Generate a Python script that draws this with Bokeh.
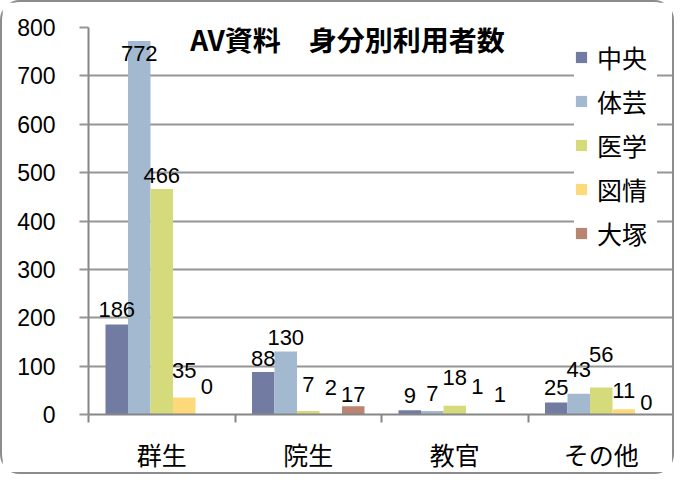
from bokeh.plotting import figure
from bokeh.models import ColumnDataSource, FixedTicker, Range1d, Legend, LegendItem, Label
from bokeh.embed import file_html
from bokeh.resources import INLINE
from bokeh.core.properties import value

# ---- data ----
categories = ["群生", "院生", "教官", "その他"]
series_names = ["中央", "体芸", "医学", "図情", "大塚"]
chuo = [186, 88, 9, 25]
taigei = [772, 130, 7, 43]
igaku = [466, 7, 18, 56]
zujo = [35, 2, 1, 11]
otsuka = [0, 17, 1, 0]
series_values = [chuo, taigei, igaku, zujo, otsuka]
y_ticks = [0, 100, 200, 300, 400, 500, 600, 700, 800]
title_text = "AV資料　身分別利用者数"

# ---- style ----
colors = ["#727CA3", "#A2B9D0", "#D5DB7A", "#FDD97C", "#B98570"]
# vertical lift (px) of each data label centre above its bar top (Excel staggering)
label_lift = [
    [15, 13, 15, 15],
    [-12, 14, 18, 24],
    [14, 27, 28, 33],
    [27, 26, 28, 19],
    [28, 12, 20, 12],
]
bar_w = 0.1536
grid_grey = "#959595"
axis_grey = "#868686"
jp_font = "Noto Sans CJK JP"
num_font = "Liberation Sans"

p = figure(width=674, height=474, output_backend="svg", toolbar_location=None,
           x_range=Range1d(0, len(categories)), y_range=Range1d(0, 800),
           min_border_left=86, min_border_right=2, min_border_top=25, min_border_bottom=62)
p.styles = {"border": "2px solid #8c8c8c", "border-radius": "20px"}
p.outline_line_color = None
p.background_fill_color = "white"
p.border_fill_color = "white"

renderers = []
label_sources = []
for k, (name, vals) in enumerate(zip(series_names, series_values)):
    xs = [i + 0.5 + (k - 2) * bar_w for i in range(len(categories))]
    src = ColumnDataSource(dict(x=xs, top=vals))
    r = p.vbar(x="x", top="top", width=bar_w, source=src, fill_color=colors[k], line_color=None)
    renderers.append(r)
    label_sources.append(ColumnDataSource(dict(x=xs, y=vals, t=[str(v) for v in vals],
                                               yo=[-l for l in label_lift[k]])))

# data labels drawn after all bars so they sit on top
for lsrc in label_sources:
    p.text(x="x", y="y", text="t", source=lsrc, y_offset="yo",
           text_font=value(num_font), text_font_size="22px", text_color="black",
           text_align="center", text_baseline="middle")

# y axis
p.yaxis.ticker = FixedTicker(ticks=y_ticks)
p.yaxis.axis_line_color = axis_grey
p.yaxis.axis_line_width = 2
p.yaxis.major_tick_line_color = grid_grey
p.yaxis.major_tick_line_width = 2
p.yaxis.major_tick_out = 9
p.yaxis.major_tick_in = 0
p.yaxis.minor_tick_line_color = None
p.yaxis.major_label_standoff = 24
p.yaxis.major_label_text_font = num_font
p.yaxis.major_label_text_font_size = "23px"
p.yaxis.major_label_text_color = "black"

# x axis
centers = [i + 0.5 for i in range(len(categories))]
bounds = list(range(len(categories) + 1))
p.xaxis.ticker = FixedTicker(ticks=centers, minor_ticks=bounds)
p.xaxis.major_label_overrides = {c: lab for c, lab in zip(centers, categories)}
p.xaxis.axis_line_color = axis_grey
p.xaxis.axis_line_width = 2
p.xaxis.major_tick_line_color = None
p.xaxis.major_tick_out = 0
p.xaxis.major_tick_in = 0
p.xaxis.minor_tick_line_color = axis_grey
p.xaxis.minor_tick_line_width = 2
p.xaxis.minor_tick_out = 8
p.xaxis.minor_tick_in = 0
p.xaxis.major_label_standoff = 13
p.xaxis.major_label_text_font = jp_font
p.xaxis.major_label_text_font_size = "25px"
p.xaxis.major_label_text_color = "black"

p.xgrid.grid_line_color = None
p.ygrid.ticker = FixedTicker(ticks=y_ticks)
p.ygrid.grid_line_color = grid_grey
p.ygrid.grid_line_width = 2

# title inside plot
title = Label(x=259, y=376, x_units="screen", y_units="screen", text=title_text,
              text_font=jp_font, text_font_style="bold", text_font_size="28px",
              text_color="black", text_align="center", text_baseline="middle",
              background_fill_color="white", padding=9)
p.add_layout(title)

legend = Legend(items=[LegendItem(label=n, renderers=[r]) for n, r in zip(series_names, renderers)],
                location=(486, 163), margin=0, padding=9, spacing=8,
                glyph_width=14, glyph_height=14, label_standoff=9, label_height=25, label_width=60,
                label_text_font=jp_font, label_text_font_size="25px",
                label_text_color="black", border_line_color=None,
                background_fill_color="white", background_fill_alpha=1.0)
p.add_layout(legend)

open("out.html", "w").write(file_html(p, INLINE))
